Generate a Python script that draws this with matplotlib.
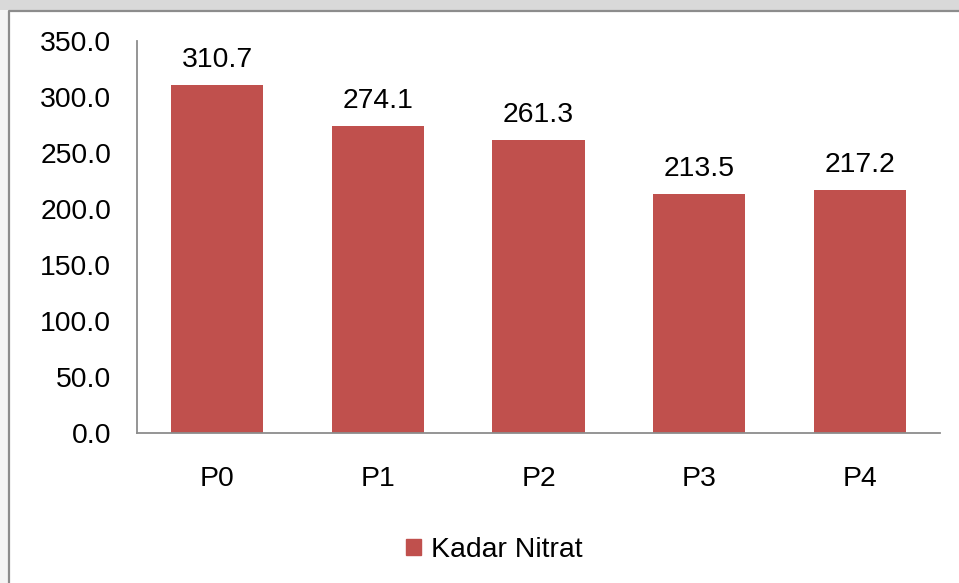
import matplotlib
matplotlib.use("Agg")
import matplotlib.pyplot as plt
from matplotlib.patches import Rectangle
from matplotlib.lines import Line2D

categories = ["P0", "P1", "P2", "P3", "P4"]
values = [310.7, 274.1, 261.3, 213.5, 217.2]
series_name = "Kadar Nitrat"
yticks = [0, 50, 100, 150, 200, 250, 300, 350]

plt.rcParams['font.family'] = ['Liberation Sans', 'DejaVu Sans']
W, H = 959, 583
FS = 20.4
fig = plt.figure(figsize=(W/100, H/100), dpi=100, facecolor="white")

# outer frame decoration
fig.patches.append(Rectangle((0, 1 - 10/H), 1, 10/H, transform=fig.transFigure,
                             facecolor="#D9D9D9", edgecolor="none", zorder=0))
fig.patches.append(Rectangle((0, 0), 8/W, 1 - 10/H, transform=fig.transFigure,
                             facecolor="#F4F4F4", edgecolor="none", zorder=0))
fig.lines.append(Line2D([8.5/W, 8.5/W, 1], [0, 1 - 10.5/H, 1 - 10.5/H],
                        transform=fig.transFigure, color="#8C8C8C", lw=1.6))

ax = fig.add_axes([137/W, 1 - 433/H, (940 - 137)/W, (433 - 41)/H])
color = "#C0504D"
bars = ax.bar(categories, values, width=0.575, color=color, label=series_name, zorder=2)
ax.set_xlim(-0.5, len(categories) - 0.5)
ax.set_ylim(0, 350)
ax.set_yticks(yticks)
ax.set_yticklabels([f"{v:.1f}" for v in yticks])
ax.tick_params(axis="both", length=0, labelsize=FS, colors="black")
ax.tick_params(axis="y", pad=18.5)
ax.tick_params(axis="x", pad=23.5)
for s in ["top", "right"]:
    ax.spines[s].set_visible(False)
for s in ["left", "bottom"]:
    ax.spines[s].set_color("#8C8C8C")
    ax.spines[s].set_linewidth(1.3)
ax.set_facecolor("none")

for b, v in zip(bars, values):
    ax.annotate(f"{v:.1f}", (b.get_x() + b.get_width()/2, v), xytext=(0, 8.6),
                textcoords="offset points", ha="center", va="bottom", fontsize=FS)

fig.legend(handles=[Rectangle((0, 0), 1, 1, color=color)], labels=[series_name],
           loc="center", bbox_to_anchor=(494/W, 1 - 550/H), frameon=False,
           fontsize=FS, handlelength=0.53, handleheight=0.53, handletextpad=0.35,
           borderpad=0)

fig.savefig("out.png", dpi=100, facecolor=fig.get_facecolor())
